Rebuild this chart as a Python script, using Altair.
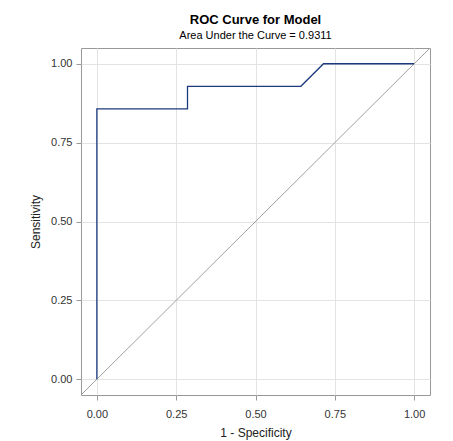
import altair as alt
import pandas as pd

# ROC curve points (1 - specificity, sensitivity)
fpr = [0.0, 0.0, 0.2857, 0.2857, 0.6429, 0.7143, 1.0]
tpr = [0.0, 0.8571, 0.8571, 0.9286, 0.9286, 1.0, 1.0]
diag = [-0.05, 1.05]
ticks = [0.0, 0.25, 0.5, 0.75, 1.0]

roc = pd.DataFrame({"fpr": fpr, "tpr": tpr, "order": list(range(len(fpr)))})
ref = pd.DataFrame({"fpr": diag, "tpr": diag, "order": [0, 1]})

font = "Liberation Sans"
xscale = alt.Scale(domain=[-0.05, 1.05], nice=False, zero=False)
yscale = alt.Scale(domain=[-0.05, 1.05], nice=False, zero=False)

axis_common = dict(
    values=ticks, format=".2f", labelFont=font, labelFontSize=11,
    labelColor="#333333", titleFont=font, titleFontSize=12,
    titleFontWeight="normal", titleColor="#222222", tickColor="#999999",
    tickSize=5, domain=False, gridColor="#e3e3e3", grid=True,
)

diag_line = alt.Chart(ref).mark_line(color="#a0a0a0", strokeWidth=1, clip=True).encode(
    x=alt.X("fpr:Q", scale=xscale, axis=alt.Axis(title="1 - Specificity", titlePadding=8, labelPadding=8, **axis_common)),
    y=alt.Y("tpr:Q", scale=yscale, axis=alt.Axis(title="Sensitivity", titlePadding=8, labelPadding=4, **axis_common)),
    order="order:Q",
)

roc_line = alt.Chart(roc).mark_line(color="#1c3b7d", strokeWidth=1.3, clip=True).encode(
    x=alt.X("fpr:Q", scale=xscale),
    y=alt.Y("tpr:Q", scale=yscale),
    order="order:Q",
)

chart = alt.layer(diag_line, roc_line).properties(
    width=349,
    height=347,
    autosize=alt.AutoSizeParams(type="none"),
    padding={"left": 73, "top": 40, "right": 15, "bottom": 46},
    title=alt.TitleParams(
        text="ROC Curve for Model",
        subtitle="Area Under the Curve = 0.9311",
        font=font, fontSize=13, fontWeight="bold", color="#000000",
        subtitleFont=font, subtitleFontSize=11, subtitleColor="#000000",
        subtitlePadding=3, anchor="middle", offset=7,
    ),
    background="white",
).configure_view(stroke="#999999", strokeWidth=1)

chart.save("out.html", embed_options={"renderer": "svg", "actions": False})
